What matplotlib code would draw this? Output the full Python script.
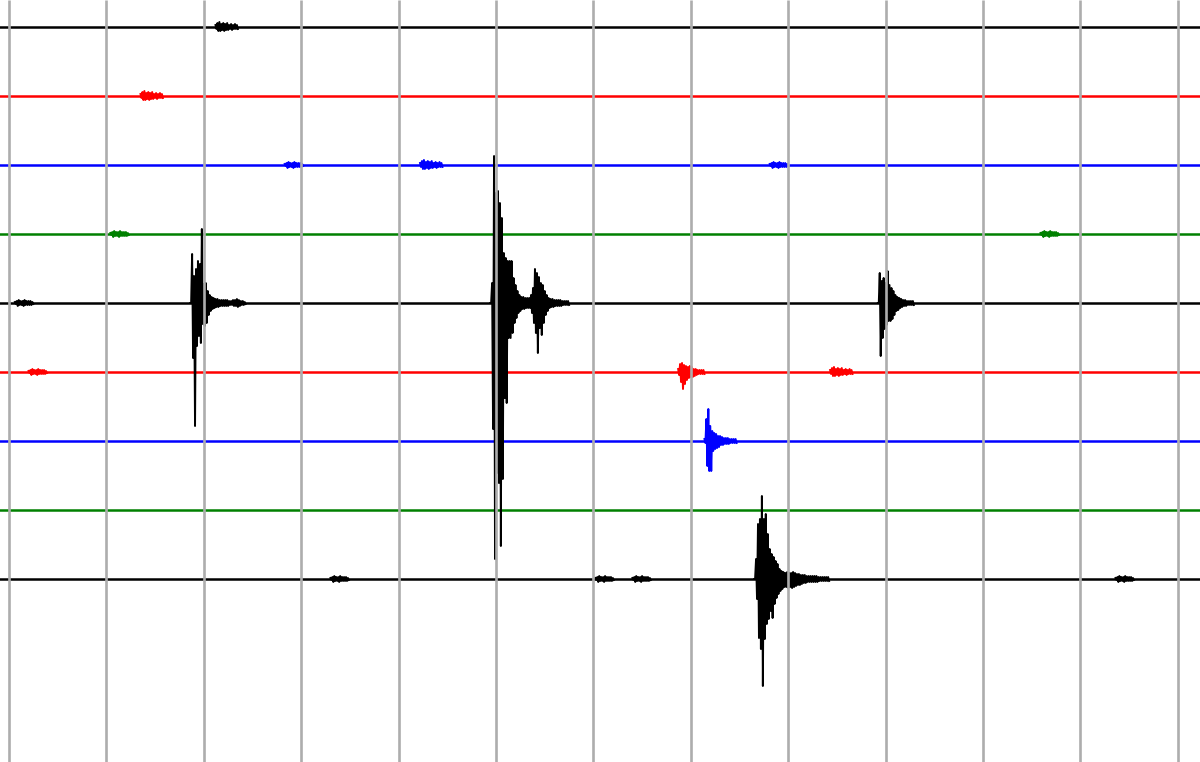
import numpy as np
import matplotlib.pyplot as plt

## Helicorder-style drum record: 9 lines, one grid line per minute

row_colors = ["black", "red", "blue", "green", "black", "red", "blue", "green", "black"]
row_gap = 69          # counts between traces
minutes = list(range(13))
step = 0.02           # minutes between envelope samples

# events: (row, start minute, upper peaks, lower peaks) - peaks in counts
ev_a_up = [0, 49, 27, 34, 42, 39, 74, 19, 20, 12, 8, 6, 5, 4, 4, 3, 3, 3, 3, 3, 2, 2, 3, 3, 4, 3, 2, 2, 1]
ev_a_dn = [0, -55, -123, -43, -33, -40, -21, -23, -20, -12, -8, -6, -5, -4, -4, -3, -3, -3, -3, -3, -2, -2, -3, -3, -4, -3, -2, -2, -1]

ev_b_up = [0, 20, 147, 110, 112, 100, 85, 50, 45, 42, 42, 42, 25, 18, 12, 8, 6, 6, 5, 5, 5,
           8, 15, 34, 30, 26, 20, 18, 12, 8, 5, 4, 4, 3, 3, 3, 3, 2, 2, 2, 2]
ev_b_dn = [0, -126, -256, -170, -180, -243, -176, -95, -100, -35, -35, -30, -20, -15, -10, -8, -6, -6, -5, -5, -5,
           -10, -20, -30, -50, -25, -32, -20, -12, -8, -5, -4, -4, -3, -3, -3, -3, -2, -2, -2, -2]

ev_c_up = [0, 30, 22, 25, 20, 32, 18, 15, 12, 8, 6, 5, 4, 3, 3, 2, 2, 2, 2]
ev_c_dn = [0, -53, -35, -26, -22, -18, -18, -16, -12, -8, -7, -5, -4, -3, -3, -2, -2, -2, -2]

ev_d_up = [0, 20, 55, 60, 83, 60, 65, 45, 30, 25, 22, 18, 15, 10, 8, 7, 6, 7, 6, 6, 7, 6, 5, 5, 4,
           4, 4, 3, 3, 3, 3, 3, 3, 2, 2, 2, 2, 2, 2]
ev_d_dn = [0, -20, -59, -70, -107, -60, -45, -40, -32, -39, -25, -19, -15, -12, -10, -8, -8, -9, -8, -9, -8, -7, -6, -6, -5,
           -4, -4, -3, -3, -3, -3, -3, -3, -2, -2, -2, -2, -2, -2]

ev_e_up = [3, 8, 9, 7, 6, 5, 6, 5, 3, 3, 2, 2, 2, 2]
ev_e_dn = [-3, -10, -17, -12, -8, -6, -5, -5, -4, -3, -2, -2, -2, -2]

ev_f_up = [2, 22, 32, 15, 10, 8, 7, 5, 5, 4, 3, 3, 3, 2, 2, 2, 2]
ev_f_dn = [-2, -25, -30, -30, -10, -8, -7, -6, -4, -4, -3, -3, -3, -2, -2, -2, -2]

small_up = [2, 4, 5, 3, 4, 3, 4, 2, 3, 2, 3, 2]
small_dn = [-2, -4, -4, -3, -4, -3, -3, -2, -3, -2, -2, -2]
tiny_up = [1, 2, 3, 2, 2, 3, 2, 2, 2, 1]
tiny_dn = [-1, -3, -2, -2, -3, -2, -2, -2, -2, -1]

events = [
    (4, 1.86, ev_a_up, ev_a_dn),
    (4, 4.94, ev_b_up, ev_b_dn),
    (4, 8.92, ev_c_up, ev_c_dn),
    (8, 7.65, ev_d_up, ev_d_dn),
    (5, 6.87, ev_e_up, ev_e_dn),
    (6, 7.14, ev_f_up, ev_f_dn),
    (0, 2.12, small_up, small_dn),
    (1, 1.35, small_up, small_dn),
    (2, 2.83, tiny_up, tiny_dn),
    (2, 4.22, small_up, small_dn),
    (2, 7.81, tiny_up, tiny_dn),
    (3, 1.04, tiny_up, tiny_dn),
    (3, 10.59, tiny_up, tiny_dn),
    (4, 0.06, tiny_up, tiny_dn),
    (5, 0.20, tiny_up, tiny_dn),
    (5, 8.43, small_up, small_dn),
    (8, 3.30, tiny_up, tiny_dn),
    (8, 6.02, tiny_up, tiny_dn),
    (8, 6.40, tiny_up, tiny_dn),
    (8, 11.36, tiny_up, tiny_dn),
]

## Figure

fig = plt.figure(figsize=(12, 7.62), dpi=100)
ax = fig.add_axes([0, 0, 1, 1])
x_left, x_right = -0.0924, 12.228
ax.set_xlim(x_left, x_right)
ax.set_ylim(-735, 27)
ax.axis("off")

# baselines
for r, c in enumerate(row_colors):
    ax.plot([x_left, x_right], [-r * row_gap] * 2, color=c, lw=1.8, zorder=2)

# event wiggles: alternate between upper and lower peak at each sample
for r, t0, up, dn in events:
    xs, ys = [], []
    for i in range(len(up)):
        xs += [t0 + i * step, t0 + (i + 0.5) * step]
        ys += [up[i], dn[i]]
    ys = np.array(ys) - r * row_gap
    ax.plot(xs, ys, color=row_colors[r], lw=1.4, zorder=2)

# minute lines
ax.vlines(minutes, -735, 27, color="#adadad", lw=1.9, zorder=3)

plt.savefig("out.png")
